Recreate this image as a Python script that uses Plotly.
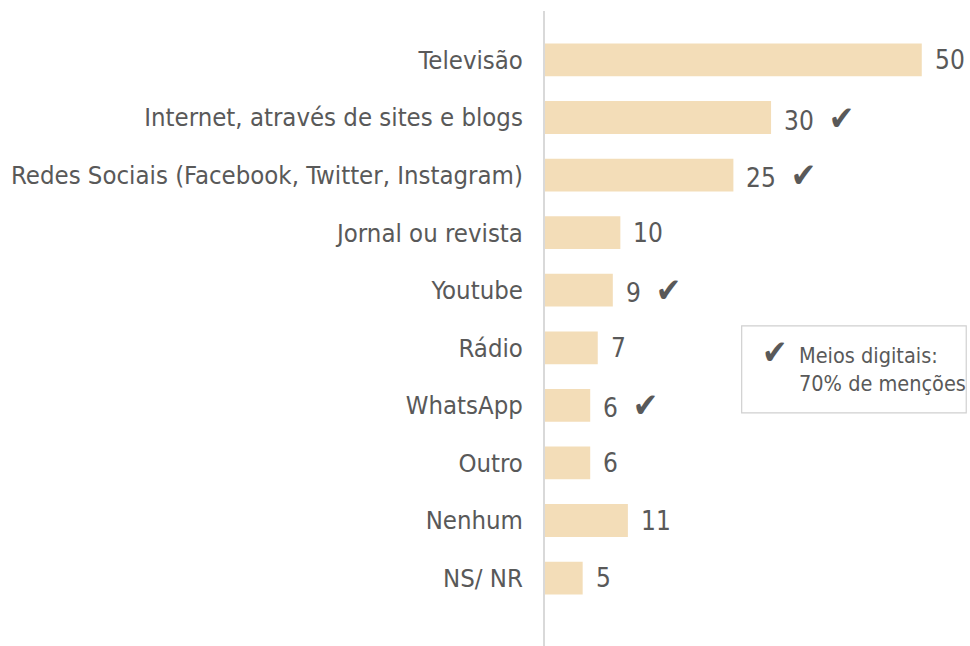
import plotly.graph_objects as go

categories = ["Televisão", "Internet, através de sites e blogs",
              "Redes Sociais (Facebook, Twitter, Instagram)", "Jornal ou revista",
              "Youtube", "Rádio", "WhatsApp", "Outro", "Nenhum", "NS/ NR"]
values = [50, 30, 25, 10, 9, 7, 6, 6, 11, 5]
digital = [False, True, True, False, True, False, True, False, False, False]
legend_lines = ["Meios digitais:", "70% de menções"]

FONT = "DejaVu Sans Condensed, Liberation Sans Narrow, sans-serif"
GRAY = "#595959"
CHECK = '<span style="font-size:34px">✔</span>'

fig = go.Figure(go.Bar(
    y=categories, x=values, orientation="h",
    marker=dict(color="#F3DDB8", line=dict(width=0)),
    width=0.57, hoverinfo="skip",
))

for c, v, d in zip(categories, values, digital):
    fig.add_annotation(x=v, y=c, text=f"{v}" + ("  " + CHECK if d else ""),
                       xanchor="left", xshift=11, showarrow=False,
                       font=dict(family=FONT, size=26, color=GRAY))

fig.add_shape(type="rect", x0=26.1, x1=55.9, y0=4.62, y1=6.13,
              line=dict(color="#D0D0D0", width=1.2), fillcolor="rgba(0,0,0,0)")
fig.add_annotation(x=30.5, y=5.08, text=CHECK, showarrow=False, xanchor="center",
                   font=dict(family=FONT, size=24, color=GRAY))
fig.add_annotation(x=33.5, y=5.38, text="<br>".join(legend_lines), showarrow=False,
                   xanchor="left", align="left",
                   font=dict(family=FONT, size=21.5, color=GRAY))

fig.update_layout(
    width=970, height=646, margin=dict(l=545, r=0, t=11, b=0, autoexpand=False),
    paper_bgcolor="white", plot_bgcolor="white", showlegend=False,
    xaxis=dict(range=[0, 56.4], visible=False, automargin=False),
    yaxis=dict(range=[10.18, -0.85], showline=True, linecolor="#D9D9D9", linewidth=2,
               showgrid=False, zeroline=False, ticks="", ticklabelstandoff=15,
               automargin=False,
               tickfont=dict(family=FONT, size=25.5, color=GRAY)),
)
fig.write_html(
    "out.html",
    config={"displayModeBar": False},
    post_script="document.body.style.margin='0';document.body.style.overflow='hidden';",
)
